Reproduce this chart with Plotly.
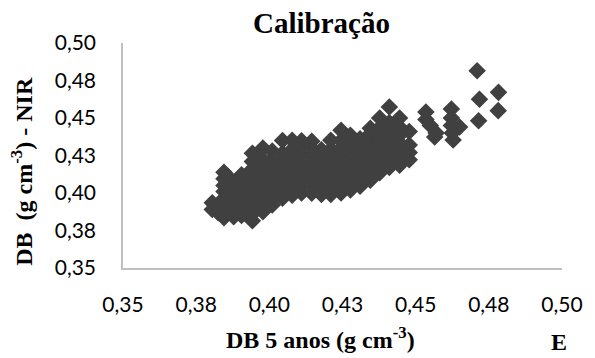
import plotly.graph_objects as go

# --- data (DB 5 anos vs DB NIR, g cm-3) ---
db5 = [
    0.3805, 0.3805,
    0.3825, 0.3825,
    0.3845, 0.3845, 0.3845, 0.3845, 0.3845, 0.3845, 0.3845, 0.3845,
    0.3858, 0.3858, 0.3858,
    0.3878, 0.3878, 0.3878, 0.3878, 0.3878, 0.3878,
    0.3905, 0.3905, 0.3905, 0.3905, 0.3905, 0.3905, 0.3905,
    0.3942, 0.3942, 0.3942, 0.3942, 0.3942, 0.3942, 0.3942, 0.3942, 0.3942, 0.3942,
    0.3978, 0.3978, 0.3978, 0.3978, 0.3978, 0.3978, 0.3978, 0.3978, 0.3978,
    0.4010, 0.4010, 0.4010, 0.4010, 0.4010, 0.4010, 0.4010, 0.4010,
    0.4045, 0.4045, 0.4045, 0.4045, 0.4045, 0.4045, 0.4045, 0.4045,
    0.4078, 0.4078, 0.4078, 0.4078, 0.4078, 0.4078, 0.4078, 0.4078,
    0.4110, 0.4110, 0.4110, 0.4110, 0.4110, 0.4110, 0.4110, 0.4110,
    0.4145, 0.4145, 0.4145, 0.4145, 0.4145, 0.4145, 0.4145, 0.4145,
    0.4178, 0.4178, 0.4178, 0.4178, 0.4178, 0.4178, 0.4178,
    0.4210, 0.4210, 0.4210, 0.4210, 0.4210, 0.4210, 0.4210, 0.4210,
    0.4245, 0.4245, 0.4245, 0.4245, 0.4245, 0.4245, 0.4245, 0.4245, 0.4245,
    0.4277, 0.4277, 0.4277, 0.4277, 0.4277, 0.4277, 0.4277, 0.4277,
    0.4310, 0.4310, 0.4310, 0.4310, 0.4310, 0.4310, 0.4310,
    0.4345, 0.4345, 0.4345, 0.4345, 0.4345, 0.4345, 0.4345, 0.4345,
    0.4377, 0.4377, 0.4377, 0.4377, 0.4377, 0.4377, 0.4377, 0.4377,
    0.4410, 0.4410, 0.4410, 0.4410, 0.4410, 0.4410, 0.4410, 0.4410,
    0.4445, 0.4445, 0.4445, 0.4445, 0.4445, 0.4445, 0.4445,
    0.4478, 0.4478, 0.4478, 0.4478,
    0.4535, 0.4535, 0.4550, 0.4570, 0.4565,
    0.4622, 0.4622, 0.4622, 0.4625, 0.4628, 0.4650,
    0.4710, 0.4718, 0.4783, 0.4782, 0.4715,
]
db_nir = [
    0.3890, 0.3935,
    0.3868, 0.3912,
    0.3835, 0.3880, 0.3925, 0.3965, 0.4010, 0.4050, 0.4095, 0.4138,
    0.3985, 0.4070, 0.4112,
    0.3842, 0.3890, 0.3940, 0.3990, 0.4040, 0.4062,
    0.3850, 0.3900, 0.3950, 0.4000, 0.4050, 0.4100, 0.4122,
    0.3815, 0.3860, 0.3910, 0.3960, 0.4010, 0.4060, 0.4110, 0.4160, 0.4210, 0.4265,
    0.3875, 0.3925, 0.3975, 0.4025, 0.4075, 0.4125, 0.4175, 0.4225, 0.4300,
    0.3920, 0.3970, 0.4020, 0.4070, 0.4120, 0.4170, 0.4220, 0.4280,
    0.3965, 0.4015, 0.4065, 0.4115, 0.4165, 0.4215, 0.4265, 0.4350,
    0.3985, 0.4035, 0.4085, 0.4135, 0.4185, 0.4235, 0.4290, 0.4352,
    0.4000, 0.4050, 0.4100, 0.4150, 0.4200, 0.4250, 0.4300, 0.4348,
    0.3998, 0.4050, 0.4100, 0.4150, 0.4200, 0.4250, 0.4300, 0.4345,
    0.3990, 0.4040, 0.4090, 0.4140, 0.4190, 0.4240, 0.4288,
    0.3990, 0.4040, 0.4090, 0.4140, 0.4190, 0.4240, 0.4290, 0.4352,
    0.4000, 0.4050, 0.4100, 0.4150, 0.4200, 0.4250, 0.4300, 0.4350, 0.4418,
    0.4020, 0.4070, 0.4120, 0.4170, 0.4220, 0.4270, 0.4320, 0.4385,
    0.4045, 0.4095, 0.4145, 0.4195, 0.4245, 0.4295, 0.4362,
    0.4085, 0.4135, 0.4185, 0.4235, 0.4285, 0.4335, 0.4395, 0.4432,
    0.4135, 0.4185, 0.4235, 0.4285, 0.4335, 0.4385, 0.4435, 0.4500,
    0.4170, 0.4220, 0.4270, 0.4320, 0.4370, 0.4420, 0.4470, 0.4573,
    0.4185, 0.4235, 0.4285, 0.4335, 0.4385, 0.4440, 0.4500,
    0.4222, 0.4270, 0.4320, 0.4410,
    0.4540, 0.4490, 0.4450, 0.4400, 0.4373,
    0.4560, 0.4500, 0.4450, 0.4400, 0.4353, 0.4440,
    0.4815, 0.4625, 0.4671, 0.4549, 0.4482,
]

tick_vals = [0.35, 0.375, 0.40, 0.425, 0.45, 0.475, 0.50]
tick_text = ["0,35", "0,38", "0,40", "0,43", "0,45", "0,48", "0,50"]

title_text = "<b>Calibração</b>"
x_title = "<b>DB 5 anos (g cm<sup>-3</sup>)</b>"
y_title = "<b>DB  (g cm<sup>-3</sup>) - NIR</b>"
panel_label = "<b>E</b>"

fig = go.Figure()
fig.add_trace(go.Scatter(
    x=db5, y=db_nir, mode="markers",
    marker=dict(symbol="diamond", size=13.5, color="#404040", line=dict(width=0)),
    showlegend=False, hoverinfo="skip",
))

tick_font = dict(family="Lato, Open Sans, sans-serif", size=21, color="#000000")
serif = "Liberation Serif, Times New Roman, serif"

fig.update_layout(
    width=595, height=358,
    margin=dict(l=123, r=24, t=43, b=90),
    paper_bgcolor="white", plot_bgcolor="white",
    xaxis=dict(range=[0.35, 0.50], tickvals=tick_vals, ticktext=tick_text,
               showgrid=False, zeroline=False, showline=True, linecolor="#bfbfbf",
               linewidth=1.5, ticks="", tickfont=tick_font, ticklabelstandoff=17),
    yaxis=dict(range=[0.35, 0.50], tickvals=tick_vals, ticktext=tick_text,
               showgrid=False, zeroline=False, showline=True, linecolor="#bfbfbf",
               linewidth=1.5, ticks="", tickfont=tick_font, ticklabelstandoff=21),
    annotations=[
        dict(text=title_text, xref="paper", yref="paper", x=0.4531, y=1.089,
             xanchor="center", yanchor="middle", showarrow=False,
             font=dict(family=serif, size=29, color="#000000")),
        dict(text=x_title, xref="paper", yref="paper", x=0.4509, y=-0.31,
             xanchor="center", yanchor="middle", showarrow=False,
             font=dict(family=serif, size=24, color="#000000")),
        dict(text=panel_label, xref="paper", yref="paper", x=0.993, y=-0.33,
             xanchor="center", yanchor="middle", showarrow=False,
             font=dict(family=serif, size=24, color="#000000")),
        dict(text=y_title, xref="paper", yref="paper", x=-0.23, y=0.428,
             xanchor="center", yanchor="middle", showarrow=False, textangle=-90,
             font=dict(family=serif, size=24, color="#000000")),
    ],
)

fig.write_html("out.html")
